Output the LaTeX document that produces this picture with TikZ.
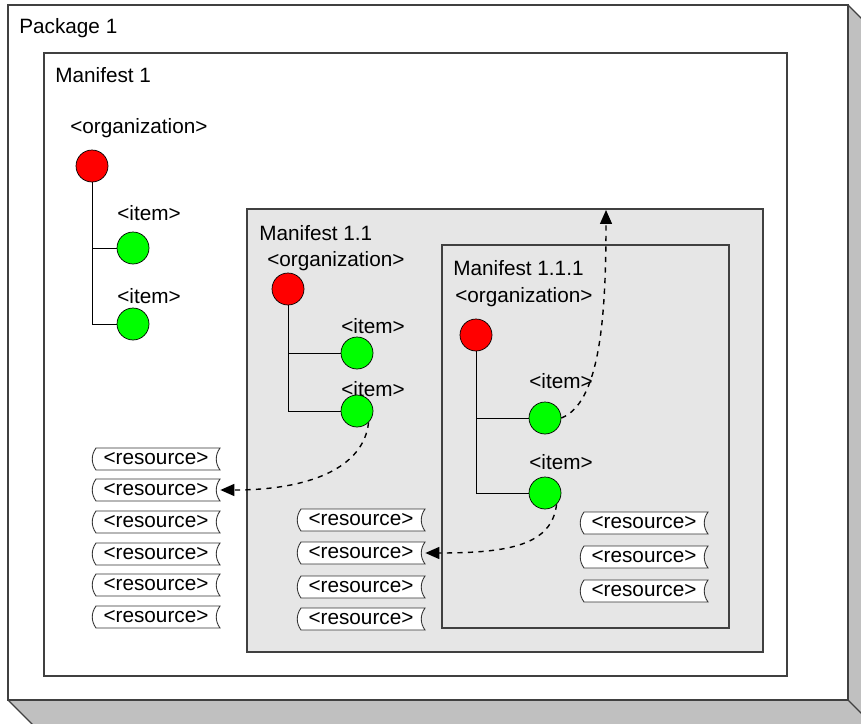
\documentclass[tikz,border=0pt]{standalone}
\usepackage{fontspec}
\setmainfont{Liberation Sans}
\usetikzlibrary{arrows.meta}
\definecolor{shadegray}{HTML}{C0C0C0}
\definecolor{mfgray}{HTML}{E6E6E6}

\tikzset{
	lbl/.style={inner sep=0pt, anchor=west, font=\fontsize{11.8}{14}\selectfont},
	orgdot/.style={circle, draw=black, fill=red, minimum size=0.64cm, inner sep=0pt},
	itemdot/.style={circle, draw=black, fill=green, minimum size=0.64cm, inner sep=0pt},
	res/.style={inner sep=0pt, minimum width=2.56cm, minimum height=0.4cm, font=\fontsize{11.8}{14}\selectfont},
	resshape/.pic={
		\draw[black!80, fill=white, line width=0.5pt] (-60,-11) -- (64,-11) .. controls (59,-4) and (59,4) .. (64,11) -- (-60,11) .. controls (-65,4) and (-65,-4) .. (-60,-11) -- cycle;
	},
	mfbox/.style={draw=black!75, line width=0.7pt},
	tree/.style={line width=0.5pt},
	link/.style={dashed, line width=0.8pt, -{Triangle[length=2.8mm, width=2.4mm]}}
}

\begin{document}
\begin{tikzpicture}[x=0.02cm, y=-0.02cm]
	\clip (0,0) rectangle (861,723);

	\fill[shadegray] (8,700) -- (848,700) -- (878,730) -- (38,730) -- cycle;
	\fill[shadegray] (848,5) -- (878,35) -- (878,730) -- (848,700) -- cycle;
	\draw[black!75, line width=0.7pt] (8,700) -- (38,730);
	\draw[black!75, line width=0.7pt] (848,5) -- (878,35);
	\draw[black!75, line width=0.7pt] (848,700) -- (878,730);
	\draw[black!75, line width=1pt, fill=white] (8,5) rectangle (848,700);
	\node[lbl] (pkg) at (19, 28) {Package 1};

	\draw[mfbox, fill=white] (44,53) rectangle (787,676);
	\draw[mfbox, fill=mfgray] (247,209) rectangle (763,652);
	\draw[mfbox, fill=mfgray] (442,245) rectangle (729,628);

	% Manifest 1
	\node[lbl] (mf1) at (55, 75) {Manifest 1};
	\node[lbl] (org1lbl) at (70, 128) {<organization>};
	\node[orgdot] (org1) at (92, 166) {};
	\node[lbl] (it1albl) at (117, 213) {<item>};
	\node[itemdot] (it1a) at (133, 248) {};
	\node[lbl] (it1blbl) at (117, 296) {<item>};
	\node[itemdot] (it1b) at (133, 324) {};
	\draw[tree] (org1.south) -- (org1.south |- it1b.west) -- (it1b.west);
	\draw[tree] (org1.south |- it1a.west) -- (it1a.west);

	% Manifest 1.1
	\node[lbl] (mf11) at (259, 233) {Manifest 1.1};
	\node[lbl] (org11lbl) at (267, 261) {<organization>};
	\node[orgdot] (org11) at (288, 289) {};
	\node[lbl] (it11albl) at (341, 326) {<item>};
	\node[itemdot] (it11a) at (357, 353) {};
	\node[lbl] (it11blbl) at (341, 389) {<item>};
	\node[itemdot] (it11b) at (357, 411) {};
	\draw[tree] (org11.south) -- (org11.south |- it11b.west) -- (it11b.west);
	\draw[tree] (org11.south |- it11a.west) -- (it11a.west);

	% Manifest 1.1.1
	\node[lbl] (mf111) at (453, 268) {Manifest 1.1.1};
	\node[lbl] (org111lbl) at (455, 297) {<organization>};
	\node[orgdot] (org111) at (476, 335) {};
	\node[lbl] (it111albl) at (529, 381) {<item>};
	\node[itemdot] (it111a) at (545, 418) {};
	\node[lbl] (it111blbl) at (529, 462) {<item>};
	\node[itemdot] (it111b) at (545, 493) {};
	\draw[tree] (org111.south) -- (org111.south |- it111b.west) -- (it111b.west);
	\draw[tree] (org111.south |- it111a.west) -- (it111a.west);

	% resources
	\foreach \i/\y in {1/459, 2/490, 3/522, 4/554, 5/585, 6/617} {
		\pic at (156, \y) {resshape};
		\node[res] (resa\i) at (156, \y) {<resource>};
	}
	\foreach \i/\y in {1/520, 2/553, 3/587, 4/619} {
		\pic at (361, \y) {resshape};
		\node[res] (resb\i) at (361, \y) {<resource>};
	}
	\foreach \i/\y in {1/523, 2/557, 3/591} {
		\pic at (644, \y) {resshape};
		\node[res] (resc\i) at (644, \y) {<resource>};
	}

	\coordinate (uptip) at (606, 210);
	\draw[link] (it11b.south east) .. controls +(-5,45) and +(90,0) .. (resa2.east);
	\draw[link] (it111a.east) .. controls +(38,-15) and +(0,110) .. (uptip);
	\draw[link] (it111b.south east) .. controls +(-5,40) and +(85,0) .. (resb2.east);
\end{tikzpicture}
\end{document}
